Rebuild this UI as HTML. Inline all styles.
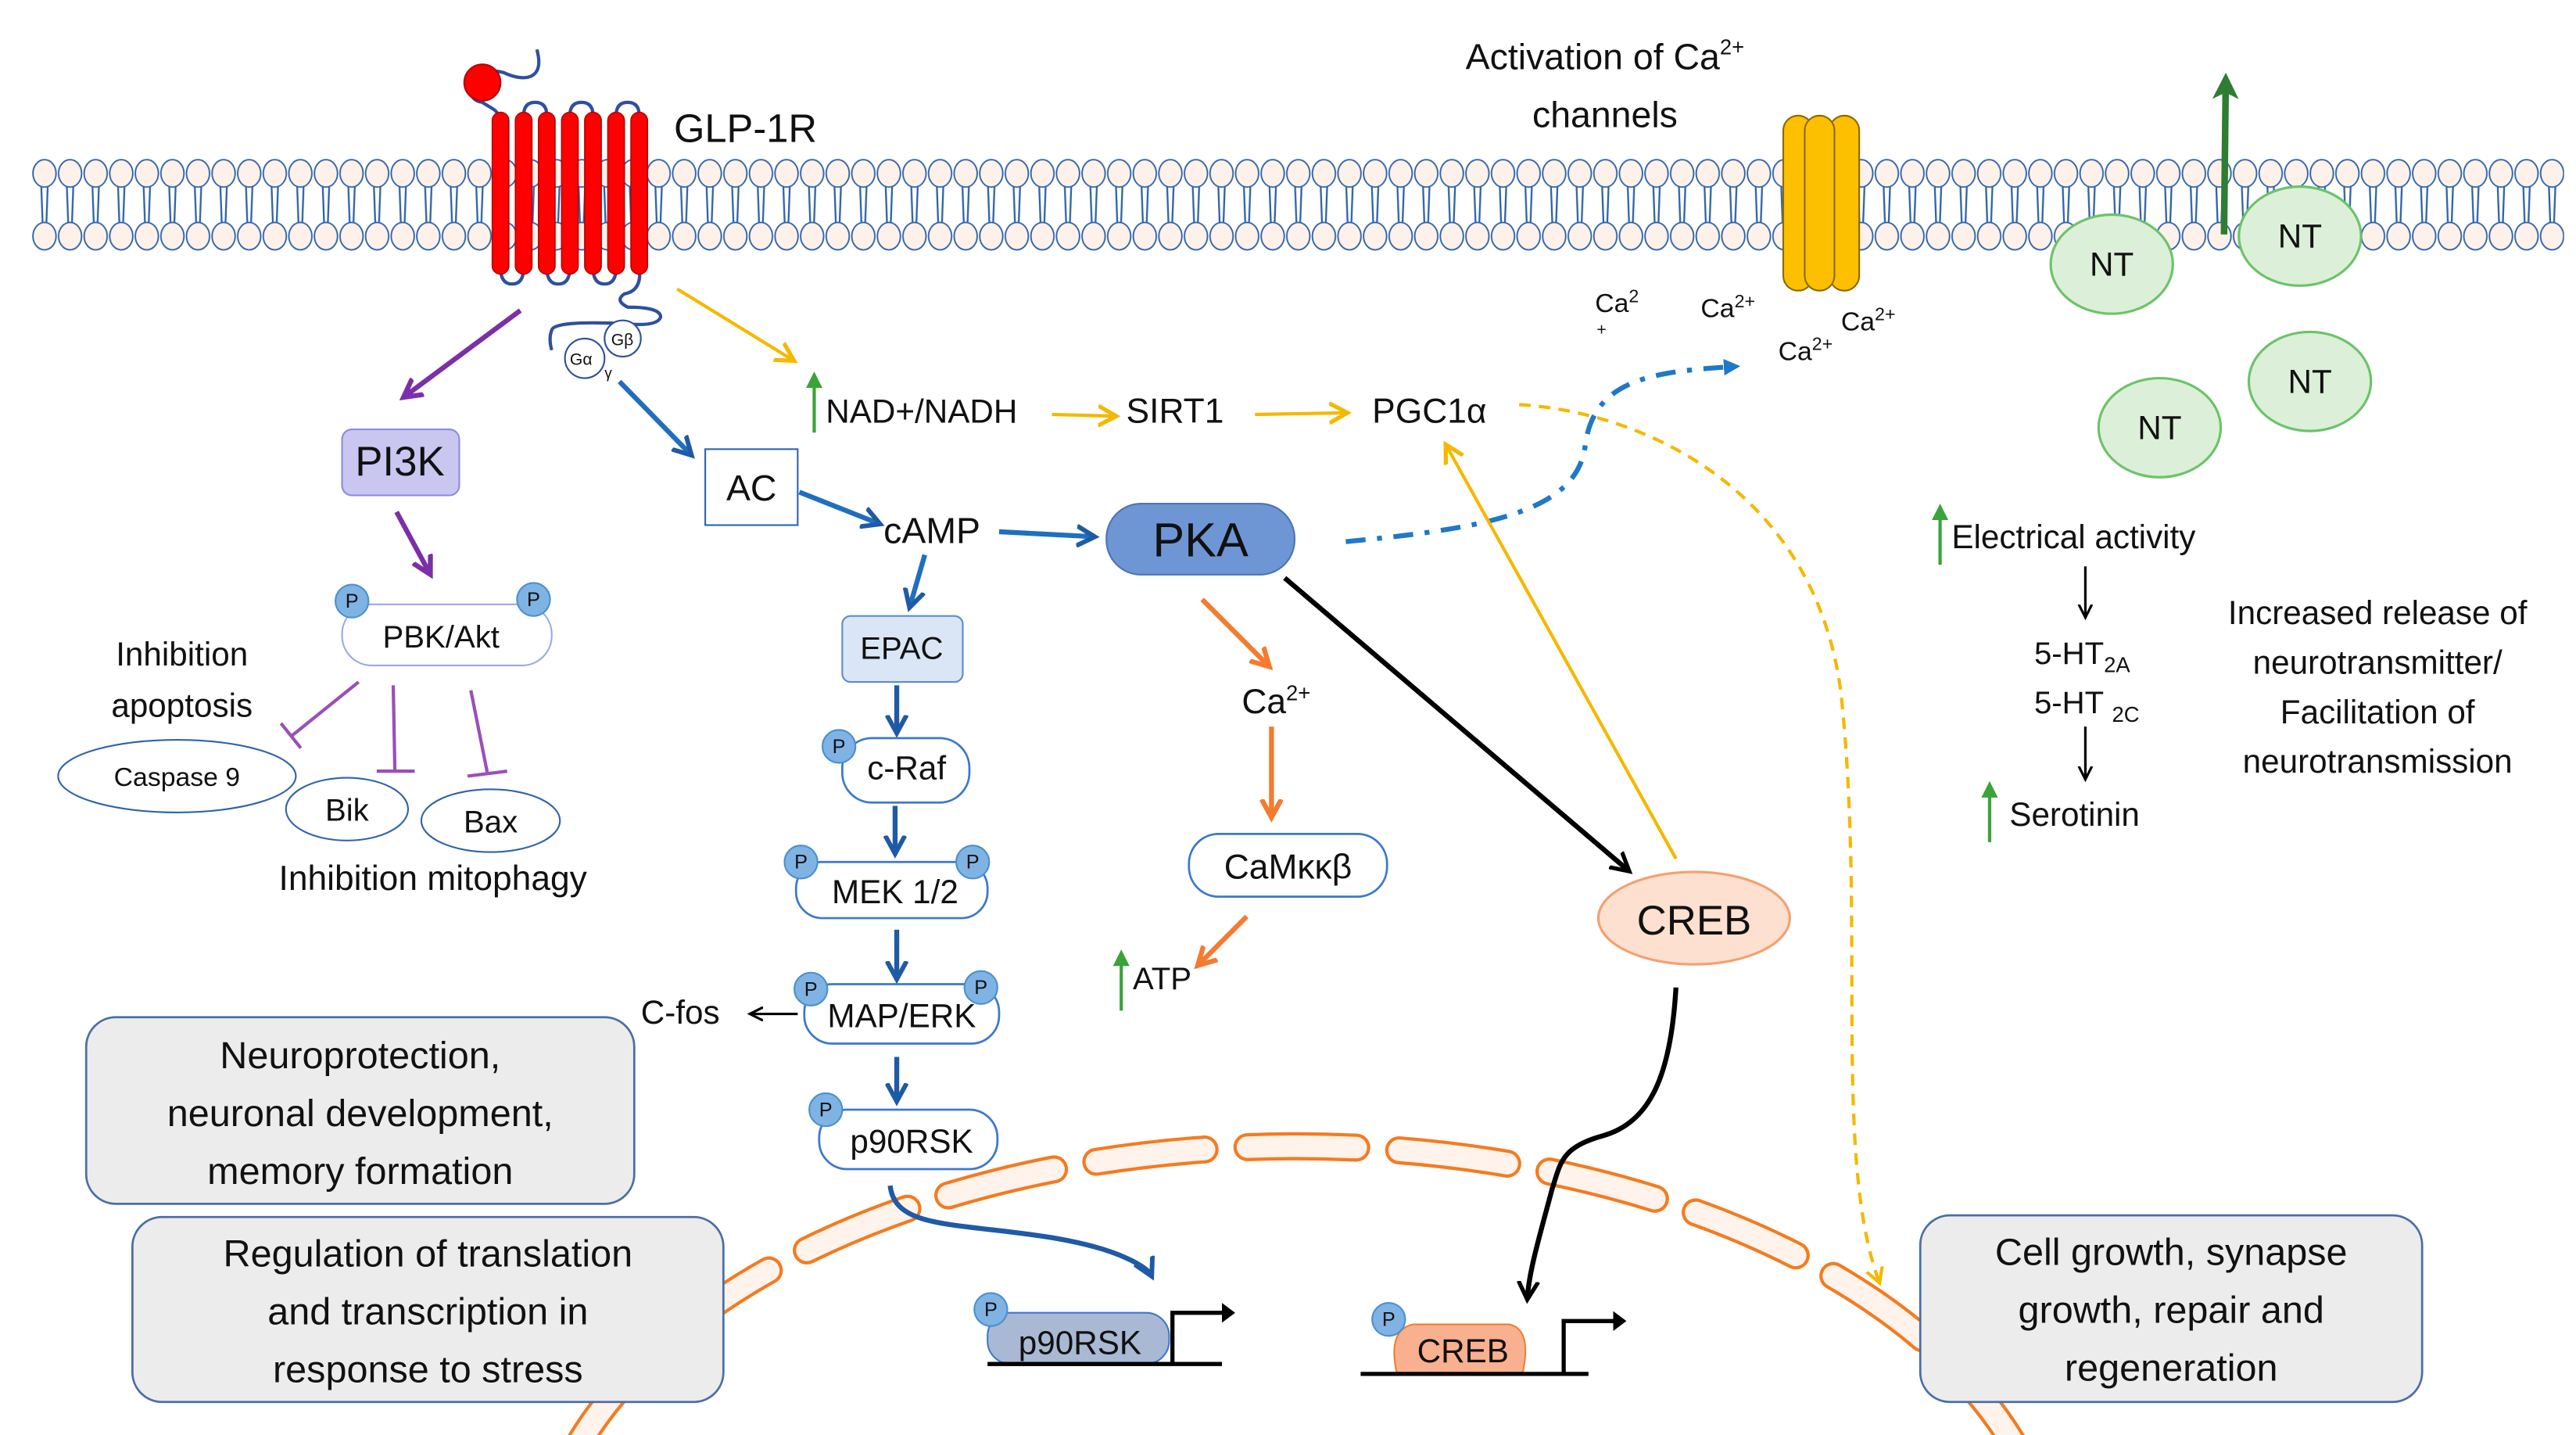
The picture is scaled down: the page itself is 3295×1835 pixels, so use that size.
<!DOCTYPE html>
<html><head><meta charset="utf-8"><style>
html,body{margin:0;padding:0;background:#fff;overflow:hidden}
svg{display:block}
text{font-family:"Liberation Sans","DejaVu Sans",sans-serif;fill:#111}
</style></head><body>
<svg width="3295" height="1835" viewBox="0 0 1560 869" xmlns="http://www.w3.org/2000/svg">
<defs>
<pattern id="lip" patternUnits="userSpaceOnUse" x="19" y="96" width="15.5" height="57">
<line x1="5.8" y1="17" x2="6.6" y2="39" stroke="#2f64a8" stroke-width="1.1"/>
<line x1="9.7" y1="17" x2="8.9" y2="39" stroke="#2f64a8" stroke-width="1.1"/>
<ellipse cx="7.75" cy="9" rx="7" ry="8.3" fill="#fdf1ea" stroke="#2f64a8" stroke-width="0.9"/>
<ellipse cx="7.75" cy="47" rx="7" ry="8.3" fill="#fdf1ea" stroke="#2f64a8" stroke-width="0.9"/>
</pattern>
<marker id="ap" markerWidth="14" markerHeight="14" refX="10" refY="7" orient="auto" markerUnits="userSpaceOnUse"><path d="M0,1 L11,7 L0,13" fill="none" stroke="#7b2fa8" stroke-width="3"/></marker>
<marker id="ay" markerWidth="14" markerHeight="14" refX="10" refY="7" orient="auto" markerUnits="userSpaceOnUse"><path d="M0,1 L11,7 L0,13" fill="none" stroke="#f5b800" stroke-width="2.5"/></marker>
<marker id="abl" markerWidth="14" markerHeight="14" refX="10" refY="7" orient="auto" markerUnits="userSpaceOnUse"><path d="M0,1 L11,7 L0,13" fill="none" stroke="#1f5aa6" stroke-width="2.8"/></marker>
<marker id="ao" markerWidth="14" markerHeight="14" refX="10" refY="7" orient="auto" markerUnits="userSpaceOnUse"><path d="M0,1 L11,7 L0,13" fill="none" stroke="#f47b30" stroke-width="3"/></marker>
<marker id="ak" markerWidth="14" markerHeight="14" refX="10" refY="7" orient="auto" markerUnits="userSpaceOnUse"><path d="M0,1 L11,7 L0,13" fill="none" stroke="#000" stroke-width="2.5"/></marker>
<marker id="ak2" markerWidth="10" markerHeight="10" refX="7" refY="5" orient="auto" markerUnits="userSpaceOnUse"><path d="M0,1 L8,5 L0,9" fill="none" stroke="#000" stroke-width="1.5"/></marker>
<marker id="ag" markerWidth="10" markerHeight="10" refX="5" refY="5" orient="auto" markerUnits="userSpaceOnUse"><path d="M0,0 L10,5 L0,10z" fill="#3aa33a"/></marker>
<marker id="agd" markerWidth="16" markerHeight="16" refX="8" refY="8" orient="auto" markerUnits="userSpaceOnUse"><path d="M0,0 L16,8 L0,16 L4,8z" fill="#2e7d32"/></marker>
<marker id="ayd" markerWidth="12" markerHeight="12" refX="8" refY="6" orient="auto" markerUnits="userSpaceOnUse"><path d="M0,1 L9,6 L0,11" fill="none" stroke="#f5b800" stroke-width="2"/></marker>
<marker id="abd" markerWidth="12" markerHeight="12" refX="6" refY="6" orient="auto" markerUnits="userSpaceOnUse"><path d="M0,1 L10,6 L0,11z" fill="#1f78c8"/></marker>
</defs>

<!-- membrane -->
<rect x="19" y="96" width="1534" height="57" fill="url(#lip)"/>

<!-- nuclear envelope -->
<g fill="none">
<path d="M325,962 A460,268 0 0 1 1245,962" stroke="#f47b20" stroke-width="17" stroke-dasharray="66 26" stroke-linecap="round"/>
<path d="M325,962 A460,268 0 0 1 1245,962" stroke="#fff3ec" stroke-width="13" stroke-dasharray="66 26" stroke-linecap="round"/>
</g>

<!-- receptor -->
<path d="M325,30 C330,48 318,50 305,44 C285,38 278,60 292,62 C298,66 300,66 302,70" fill="none" stroke="#2f4fa0" stroke-width="2"/>
<circle cx="292" cy="50" r="11" fill="#f00" stroke="#b00" stroke-width="1"/>
<g fill="none" stroke="#2f4fa0" stroke-width="2">
<path d="M317,70 Q317,62 324,62 Q331,62 331,70"/>
<path d="M345,70 Q345,62 352,62 Q359,62 359,70"/>
<path d="M373,70 Q373,62 380,62 Q387,62 387,70"/>
<path d="M303,162 Q303,172 310,172 Q317,172 317,162"/>
<path d="M331,162 Q331,172 338,172 Q345,172 345,162"/>
<path d="M359,162 Q359,172 366,172 Q373,172 373,162"/>
<path d="M387,162 Q389,176 378,178 Q372,182 380,186 Q400,186 400,192 Q398,198 378,196 Q335,194 334,200 Q332,205 334,212"/>
</g>
<g fill="#f00" stroke="#b00" stroke-width="0.8">
<rect x="298" y="68" width="10" height="98" rx="5"/>
<rect x="312" y="68" width="10" height="98" rx="5"/>
<rect x="326" y="68" width="10" height="98" rx="5"/>
<rect x="340" y="68" width="10" height="98" rx="5"/>
<rect x="354" y="68" width="10" height="98" rx="5"/>
<rect x="368" y="68" width="10" height="98" rx="5"/>
<rect x="382" y="68" width="10" height="98" rx="5"/>
</g>
<text x="408" y="86" font-size="24">GLP-1R</text>
<circle cx="377" cy="205" r="11" fill="#fff" stroke="#2f4fa0"/>
<circle cx="354" cy="217" r="12" fill="#fff" stroke="#2f4fa0"/>
<text x="370" y="209" font-size="10">Gβ</text>
<text x="345" y="221" font-size="10">Gα</text>
<text x="366" y="229" font-size="9">γ</text>

<!-- top arrows -->
<line x1="315" y1="188" x2="245" y2="240" stroke="#7b2fa8" stroke-width="3" marker-end="url(#ap)"/>
<line x1="410" y1="175" x2="480" y2="218" stroke="#f5b800" stroke-width="2" marker-end="url(#ay)"/>
<line x1="375" y1="231" x2="418" y2="275" stroke="#1f6fc0" stroke-width="3" marker-end="url(#abl)"/>

<!-- Ca channel -->
<text x="972" y="42" font-size="22" text-anchor="middle">Activation of Ca<tspan font-size="13" dy="-9">2+</tspan></text>
<text x="972" y="77" font-size="22" text-anchor="middle">channels</text>
<g fill="#fdc000" stroke="#8a6a00" stroke-width="1">
<rect x="1080" y="70" width="18" height="106" rx="9"/>
<rect x="1108" y="70" width="18" height="106" rx="9"/>
<rect x="1093" y="70" width="18" height="106" rx="9"/>
</g>
<text x="966" y="189" font-size="16">Ca<tspan font-size="11" dy="-6">2</tspan></text>
<text x="967" y="203" font-size="10">+</text>
<text x="1030" y="192" font-size="16">Ca<tspan font-size="11" dy="-6">2+</tspan></text>
<text x="1115" y="200" font-size="16">Ca<tspan font-size="11" dy="-6">2+</tspan></text>
<text x="1077" y="218" font-size="16">Ca<tspan font-size="11" dy="-6">2+</tspan></text>

<!-- NT -->
<g fill="#dcefd8" stroke="#6cc36a" stroke-width="1.5">
<ellipse cx="1279" cy="160" rx="37" ry="30"/>
<ellipse cx="1393" cy="143" rx="37" ry="30"/>
<ellipse cx="1399" cy="231" rx="37" ry="30"/>
<ellipse cx="1308" cy="259" rx="37" ry="30"/>
</g>
<g font-size="20" text-anchor="middle">
<text x="1279" y="167">NT</text><text x="1393" y="150">NT</text>
<text x="1399" y="238">NT</text><text x="1308" y="266">NT</text>
</g>
<line x1="1347" y1="142" x2="1348" y2="52" stroke="#2e7d32" stroke-width="4" marker-end="url(#agd)"/>

<!-- NAD path -->
<line x1="493" y1="262" x2="493" y2="230" stroke="#3aa33a" stroke-width="2" marker-end="url(#ag)"/>
<text x="500" y="256" font-size="20">NAD+/NADH</text>
<line x1="637" y1="251" x2="675" y2="252" stroke="#f5b800" stroke-width="2" marker-end="url(#ay)"/>
<text x="682" y="256" font-size="21">SIRT1</text>
<line x1="760" y1="251" x2="815" y2="250" stroke="#f5b800" stroke-width="2" marker-end="url(#ay)"/>
<text x="831" y="256" font-size="21">PGC1α</text>
<path d="M920,245 C1000,250 1100,300 1115,420 C1130,560 1110,700 1138,776" fill="none" stroke="#f5b800" stroke-width="2" stroke-dasharray="7 5" marker-end="url(#ayd)"/>
<path d="M815,328 C900,320 955,310 960,270 C965,230 1000,225 1050,222" fill="none" stroke="#1f78c8" stroke-width="3" stroke-dasharray="12 7 3 7" marker-end="url(#abd)"/>

<!-- PI3K branch -->
<rect x="207" y="260" width="71" height="40" rx="6" fill="#c9c6f0" stroke="#8b8be0"/>
<text x="242" y="288" font-size="25" text-anchor="middle">PI3K</text>
<line x1="240" y1="310" x2="260" y2="347" stroke="#7b2fa8" stroke-width="3" marker-end="url(#ap)"/>
<rect x="207" y="366" width="127" height="37" rx="18" fill="#fff" stroke="#9aa8e8"/>
<text x="267" y="392" font-size="19" text-anchor="middle">PBK/Akt</text>
<text x="110" y="403" font-size="20" text-anchor="middle">Inhibition</text>
<text x="110" y="434" font-size="20" text-anchor="middle">apoptosis</text>
<g stroke="#9a4fb8" stroke-width="2" fill="none">
<path d="M217,413 L176,446 M170,438 L182,453"/>
<path d="M238,415 L239,467 M228,467 L251,467"/>
<path d="M285,418 L295,468 M283,470 L307,467"/>
</g>
<ellipse cx="107" cy="470" rx="72" ry="22" fill="#fff" stroke="#2f64a8"/>
<text x="107" y="476" font-size="16" text-anchor="middle">Caspase 9</text>
<ellipse cx="210" cy="490" rx="37" ry="19" fill="#fff" stroke="#2f64a8"/>
<text x="210" y="497" font-size="19" text-anchor="middle">Bik</text>
<ellipse cx="297" cy="497" rx="42" ry="19" fill="#fff" stroke="#2f64a8"/>
<text x="297" y="504" font-size="19" text-anchor="middle">Bax</text>
<text x="262" y="539" font-size="21" text-anchor="middle">Inhibition mitophagy</text>

<!-- cAMP path -->
<rect x="427" y="272" width="56" height="46" fill="#fff" stroke="#2f64a8"/>
<text x="455" y="303" font-size="22" text-anchor="middle">AC</text>
<line x1="484" y1="298" x2="532" y2="317" stroke="#1f6fc0" stroke-width="3" marker-end="url(#abl)"/>
<text x="535" y="329" font-size="22">cAMP</text>
<line x1="605" y1="322" x2="662" y2="325" stroke="#1f6fc0" stroke-width="3" marker-end="url(#abl)"/>
<rect x="670" y="305" width="114" height="43" rx="21" fill="#6f96d4" stroke="#4b74b8"/>
<text x="727" y="337" font-size="29" text-anchor="middle">PKA</text>
<line x1="560" y1="336" x2="551" y2="367" stroke="#1f6fc0" stroke-width="3" marker-end="url(#abl)"/>
<rect x="510" y="373" width="73" height="40" rx="5" fill="#dae6f5" stroke="#5b8bd0"/>
<text x="546" y="399" font-size="19" text-anchor="middle">EPAC</text>
<g stroke="#1f5aa6" stroke-width="3" marker-end="url(#abl)">
<line x1="543" y1="415" x2="543" y2="443"/>
<line x1="542" y1="488" x2="542" y2="516"/>
<line x1="543" y1="563" x2="543" y2="592"/>
<line x1="543" y1="640" x2="543" y2="666"/>
</g>
<g fill="#fff" stroke="#3c78d0" stroke-width="1.3">
<rect x="510" y="447" width="77" height="39" rx="18"/>
<rect x="482" y="522" width="116" height="34" rx="16"/>
<rect x="487" y="596" width="118" height="36" rx="17"/>
<rect x="496" y="672" width="108" height="36" rx="17"/>
</g>
<text x="549" y="472" font-size="20" text-anchor="middle">c-Raf</text>
<text x="542" y="547" font-size="20" text-anchor="middle">MEK 1/2</text>
<text x="546" y="622" font-size="20" text-anchor="middle">MAP/ERK</text>
<text x="552" y="698" font-size="20" text-anchor="middle">p90RSK</text>
<line x1="483" y1="614" x2="455" y2="614" stroke="#000" stroke-width="1.5" marker-end="url(#ak2)"/>
<text x="388" y="620" font-size="20">C-fos</text>
<path d="M539,718 C542,745 580,740 640,750 C680,757 695,768 697,772" fill="none" stroke="#1f5aa6" stroke-width="3" marker-end="url(#abl)"/>

<!-- PKA branches -->
<line x1="728" y1="363" x2="768" y2="403" stroke="#f47b30" stroke-width="3" marker-end="url(#ao)"/>
<text x="752" y="432" font-size="21">Ca<tspan font-size="13" dy="-8">2+</tspan></text>
<line x1="770" y1="440" x2="770" y2="494" stroke="#f47b30" stroke-width="3" marker-end="url(#ao)"/>
<rect x="720" y="505" width="120" height="38" rx="18" fill="#fff" stroke="#3c78d0" stroke-width="1.3"/>
<text x="780" y="532" font-size="21" text-anchor="middle">CaMκκβ</text>
<line x1="755" y1="555" x2="726" y2="584" stroke="#f47b30" stroke-width="3" marker-end="url(#ao)"/>
<line x1="679" y1="612" x2="679" y2="580" stroke="#3aa33a" stroke-width="2" marker-end="url(#ag)"/>
<text x="686" y="599" font-size="19">ATP</text>
<line x1="778" y1="350" x2="986" y2="527" stroke="#000" stroke-width="3" marker-end="url(#ak)"/>
<line x1="1015" y1="520" x2="876" y2="270" stroke="#f5b800" stroke-width="2" marker-end="url(#ay)"/>
<ellipse cx="1026" cy="556" rx="58" ry="28" fill="#fde0cf" stroke="#f4a070" stroke-width="1.5"/>
<text x="1026" y="566" font-size="25" text-anchor="middle">CREB</text>
<path d="M1015,598 C1012,650 1000,680 970,688 C945,695 945,705 940,720 C932,750 926,770 925,786" fill="none" stroke="#000" stroke-width="3" marker-end="url(#ak)"/>

<!-- nuclear genes -->
<rect x="598" y="795" width="110" height="31" rx="14" fill="#a9b9d3" stroke="#3c78d0"/>
<text x="654" y="820" font-size="20" text-anchor="middle">p90RSK</text>
<path d="M598,826 L740,826 M710,826 L710,795 L746,795" fill="none" stroke="#000" stroke-width="2.5"/>
<path d="M740,789 L748,795 L740,801z" fill="#000"/>
<path d="M846,832 Q840,805 856,802 L914,802 Q928,805 922,832z" fill="#f9b08f" stroke="#f47b30"/>
<text x="886" y="825" font-size="20" text-anchor="middle">CREB</text>
<path d="M824,832 L962,832 M947,832 L947,800 L982,800" fill="none" stroke="#000" stroke-width="2.5"/>
<path d="M977,794 L985,800 L977,806z" fill="#000"/>

<!-- P circles -->
<g fill="#7fb3e3" stroke="#4a90d0" stroke-width="1">
<circle cx="213" cy="364" r="10"/><circle cx="323" cy="363" r="10"/>
<circle cx="508" cy="452" r="10"/><circle cx="485" cy="522" r="10"/><circle cx="589" cy="522" r="10"/>
<circle cx="491" cy="599" r="10"/><circle cx="594" cy="598" r="10"/><circle cx="500" cy="672" r="10"/>
<circle cx="600" cy="793" r="10"/><circle cx="841" cy="799" r="10"/>
</g>
<g font-size="12" text-anchor="middle">
<text x="213" y="368">P</text><text x="323" y="367">P</text><text x="508" y="456">P</text>
<text x="485" y="526">P</text><text x="589" y="526">P</text><text x="491" y="603">P</text>
<text x="594" y="602">P</text><text x="500" y="676">P</text><text x="600" y="797">P</text><text x="841" y="803">P</text>
</g>

<!-- right side text -->
<line x1="1175" y1="342" x2="1175" y2="310" stroke="#3aa33a" stroke-width="2" marker-end="url(#ag)"/>
<text x="1182" y="332" font-size="20">Electrical activity</text>
<line x1="1263" y1="343" x2="1263" y2="373" stroke="#000" stroke-width="1.5" marker-end="url(#ak2)"/>
<text x="1232" y="402" font-size="19">5-HT<tspan font-size="13" dy="5">2A</tspan></text>
<text x="1232" y="432" font-size="19">5-HT <tspan font-size="13" dy="5">2C</tspan></text>
<line x1="1263" y1="440" x2="1263" y2="471" stroke="#000" stroke-width="1.5" marker-end="url(#ak2)"/>
<line x1="1205" y1="510" x2="1205" y2="478" stroke="#3aa33a" stroke-width="2" marker-end="url(#ag)"/>
<text x="1217" y="500" font-size="20">Serotinin</text>
<g font-size="20" text-anchor="middle">
<text x="1440" y="378">Increased release of</text>
<text x="1440" y="408">neurotransmitter/</text>
<text x="1440" y="438">Facilitation of</text>
<text x="1440" y="468">neurotransmission</text>
</g>

<!-- grey boxes -->
<g fill="#ececec" stroke="#4a6fa5" stroke-width="1.3">
<rect x="52" y="616" width="332" height="113" rx="18"/>
<rect x="80" y="737" width="358" height="112" rx="18"/>
<rect x="1163" y="736" width="304" height="113" rx="18"/>
</g>
<g font-size="23" text-anchor="middle">
<text x="218" y="647">Neuroprotection,</text>
<text x="218" y="682">neuronal development,</text>
<text x="218" y="717">memory formation</text>
<text x="259" y="767">Regulation of translation</text>
<text x="259" y="802">and transcription in</text>
<text x="259" y="837">response to stress</text>
<text x="1315" y="766">Cell growth, synapse</text>
<text x="1315" y="801">growth, repair and</text>
<text x="1315" y="836">regeneration</text>
</g>
</svg>
</body></html>
